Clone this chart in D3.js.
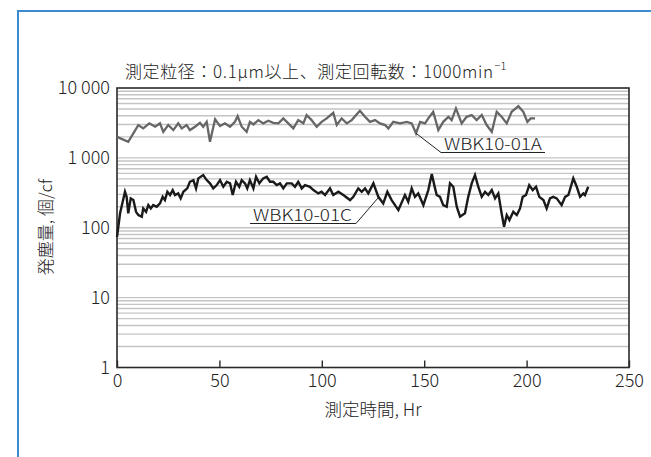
<!DOCTYPE html>
<html><head><meta charset="utf-8">
<script src="https://cdn.jsdelivr.net/npm/d3@7"></script>
<style>
html,body{margin:0;padding:0;background:#fff;}
svg{display:block;}
text{font-family:"Noto Sans CJK JP","Noto Sans",sans-serif;fill:#222;}
</style></head>
<body>
<svg id="c" width="651" height="457"></svg>
<script>
const title = "測定粒径：0.1μm以上、測定回転数：1000min";
const titleSup = "−1";
const xLabel = "測定時間, Hr";
const yLabel = "発塵量, 個/cf";
const xTickValues = [0, 50, 100, 150, 200, 250];
const yTickValues = [1, 10, 100, 1000, 10000];
const yTickLabels = ["1", "10", "100", "1 000", "10 000"];
const seriesNames = ["WBK10-01A", "WBK10-01C"];

const hoursA = [0,5.5,10.4,12.8,15.8,18.6,21,22.6,25,27.5,29.9,31.6,34,35.6,38.1,40.5,42.1,43.8,45.4,47.9,50.3,52.7,55.2,57.6,58.9,60.9,63.3,64.9,66.6,69,71.4,73.9,76.3,78.8,81.2,86.1,88.5,91,92.6,95,97.5,99.9,102.4,105.6,107.3,109.7,112.2,114.6,118.6,121.1,123.5,126,128.4,130.9,132.5,134.9,138.2,141.5,143.9,146,148,150.4,152,154.4,156.9,159.3,161.8,163.4,165.5,168.3,170.7,173.2,175.6,178.1,180.5,183,185.4,187.8,190.3,192.7,196,198.4,200.4,202,204.1];
const countA = [2000,1700,2950,2640,3120,2790,3120,2360,2950,2500,3120,2640,2950,2500,2790,3180,2790,3280,1700,3560,2850,3120,2790,3280,3960,2790,2360,3280,3010,3470,3120,3400,3180,3120,3670,2640,3470,3120,4100,3470,2790,3280,3670,4420,2950,3670,3120,3470,4720,3870,3280,3470,3120,2950,2640,3280,3120,3280,3120,2250,3280,3120,3670,4570,2500,3280,3870,3470,5100,3120,3870,4100,3470,4100,2950,2360,4570,3870,3120,4570,5500,4570,3280,3670,3670];

const hoursB = [0,1.5,3.9,4.7,5.5,6.7,8,9.3,10.4,12.1,12.8,14.2,15.3,16.5,17.7,19.4,21,22.3,23.4,24.6,25.9,27.2,28.3,29.9,31.1,32.4,34.3,35.6,37.3,38.6,39.7,42.1,43.8,45.4,47,48.7,50.3,51.9,53.6,55.2,56.5,58.1,59.7,60.9,62.5,63.6,64.9,66.6,67.9,69.5,71.4,73.1,74.7,76.3,78,79.6,81.2,82.9,85.3,86.9,88.5,90.2,91.8,94.2,95.9,98.3,99.9,101.6,104,105.6,108.1,110.5,113.8,115.4,117.8,119.5,121.1,122.7,125.2,127.6,130,132,134.1,137.4,140.6,142.2,143.9,145.5,147.1,149.6,152,153.7,155.3,156.1,157.7,159.3,161,162.6,164.2,165.9,167.5,169.9,171.5,173.2,174.8,176.4,178.1,179.7,181.3,183,184.6,186.2,187.8,189,190.3,191.6,193.5,195.2,196.8,198.1,199.7,201.3,203,204.6,206.2,208.2,209.8,211.4,213,214.7,217.1,218.8,220.4,222.8,224.5,226.1,227.7,228.5,230.1];
const countB = [74,161,327,277,161,263,249,169,152,144,189,169,211,189,211,200,223,277,249,327,294,346,294,310,263,327,366,455,481,366,509,568,481,432,366,408,481,386,455,432,294,455,386,481,432,366,481,366,537,432,509,537,455,455,408,432,366,432,432,386,455,366,408,386,346,310,327,294,366,294,327,294,249,277,366,327,366,310,432,277,223,327,249,179,294,235,366,277,310,211,346,587,366,294,277,211,200,432,386,200,144,161,277,432,568,386,277,327,294,346,263,310,161,103,152,129,169,152,189,277,294,408,346,386,277,249,189,263,277,263,211,277,294,509,386,277,310,294,386];

const svg = d3.select("#c");
const L = 117, R = 629, T = 88, B = 367.5;
const x = d3.scaleLinear().domain([0, 250]).range([L, R]);
const y = d3.scaleLog().domain([1, 10000]).range([B, T]);

svg.append("path").attr("d", `M18,470 L18,11 L660,11`)
  .attr("fill", "none").attr("stroke", "#3a8bd0").attr("stroke-width", 2);

const gridVals = [];
for (let d = 1; d < 10000; d *= 10) for (let k = 1; k < 10; k++) if (d * k > 1) gridVals.push(d * k);
svg.append("g").selectAll("line").data(gridVals).join("line")
  .attr("x1", L).attr("x2", R)
  .attr("y1", d => y(d)).attr("y2", d => y(d))
  .attr("stroke", "#c4c4c4").attr("stroke-width", 1.4);

svg.append("rect").attr("x", L).attr("y", T).attr("width", R - L).attr("height", B - T)
  .attr("fill", "none").attr("stroke", "#2a2a2a").attr("stroke-width", 1.6);

const tickFont = 18;
const xAxis = d3.axisBottom(x).tickValues(xTickValues).tickFormat(d3.format("d"))
  .tickSizeInner(-7).tickSizeOuter(0).tickPadding(7);
const gx = svg.append("g").attr("transform", `translate(0,${B})`).call(xAxis);
gx.select(".domain").remove();
gx.selectAll("line").attr("stroke", "#2a2a2a").attr("stroke-width", 1.4);
gx.selectAll("text").attr("font-size", tickFont).attr("fill", "#222").style("font-family", '"Noto Sans CJK JP",sans-serif').style("font-weight", 300);

const yAxis = d3.axisLeft(y).tickValues(yTickValues)
  .tickFormat(d => yTickLabels[yTickValues.indexOf(d)]).tickSize(0).tickPadding(7);
const gy = svg.append("g").attr("transform", `translate(${L},0)`).call(yAxis);
gy.select(".domain").remove();
gy.selectAll("text").attr("font-size", tickFont).attr("fill", "#222").style("font-family", '"Noto Sans CJK JP",sans-serif').style("font-weight", 300);

const line = d3.line().x(d => x(d[0])).y(d => y(d[1]));
const dataA = hoursA.map((h, i) => [h, countA[i]]);
const dataB = hoursB.map((h, i) => [h, countB[i]]);
svg.append("path").datum(dataA).attr("d", line).attr("fill", "none")
  .attr("stroke", "#666").attr("stroke-width", 2.3);
svg.append("path").datum(dataB).attr("d", line).attr("fill", "none")
  .attr("stroke", "#1a1a1a").attr("stroke-width", 2.4);

function annotate(name, tx, ty, tw, ux1, ux2, uy, fromX, lx, ly) {
  svg.append("text").attr("x", tx).attr("y", ty).attr("font-size", 16).style("font-weight", 300)
    .attr("textLength", tw).attr("lengthAdjust", "spacingAndGlyphs").text(name);
  svg.append("path").attr("d", `M${ux1},${uy} L${ux2},${uy} M${fromX},${uy} L${lx},${ly}`)
    .attr("fill", "none").attr("stroke", "#222").attr("stroke-width", 1);
}
annotate(seriesNames[0], 444, 150, 98, 441, 545, 152.5, 441, x(146), y(2250));
annotate(seriesNames[1], 253, 221, 99, 250, 356, 223.5, 356, 378, 198);

const tt = svg.append("text").attr("x", 125).attr("y", 78).attr("font-size", 17).style("font-weight", 300);
tt.append("tspan").attr("textLength", 368).attr("lengthAdjust", "spacing").text(title);
tt.append("tspan").attr("dy", -8).attr("dx", 1).attr("font-size", 11).text(titleSup);

svg.append("text").attr("x", 373).attr("y", 416).attr("text-anchor", "middle")
  .attr("font-size", 17.5).style("font-weight", 300).text(xLabel);
svg.append("text").attr("transform", `translate(52,227) rotate(-90)`).attr("text-anchor", "middle")
  .attr("font-size", 17).style("font-weight", 300).text(yLabel);
</script>
</body></html>
